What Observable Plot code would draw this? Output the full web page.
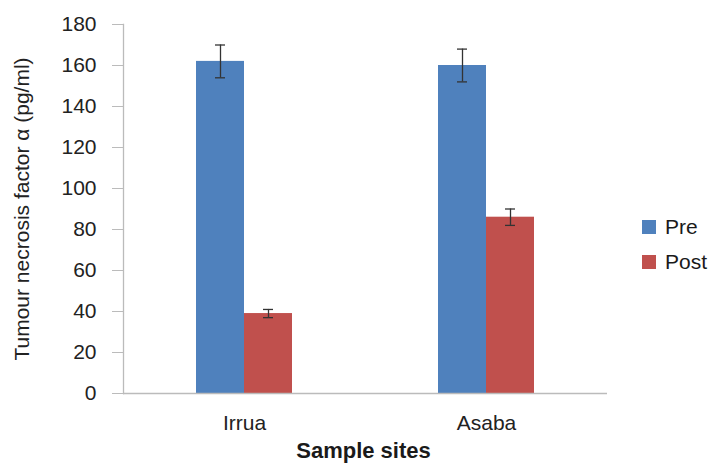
<!DOCTYPE html>
<html><head><meta charset="utf-8">
<script src="https://cdn.jsdelivr.net/npm/d3@7"></script>
<script src="https://cdn.jsdelivr.net/npm/@observablehq/plot@0.6"></script>
<style>
body{margin:0;background:#fff;font-family:"Liberation Sans",Arial,sans-serif;}
#wrap{position:relative;width:716px;height:464px;}
#wrap svg{position:absolute;left:0;top:0;}
.ov{position:absolute;color:#1a1a1a;white-space:nowrap;}
.sw{position:absolute;width:14px;height:14px;}
</style></head>
<body><div id="wrap"></div>
<script>
const sites = ["Irrua", "Asaba"];
const series = ["Pre", "Post"];
const colors = ["#4F81BD", "#C0504D"];
const preValues = [162, 160];
const postValues = [39, 86];
const preErr = [8, 8];
const postErr = [2, 4];
const yTicks = [0, 20, 40, 60, 80, 100, 120, 140, 160, 180];
const yLabel = "Tumour necrosis factor α (pg/ml)";
const xLabel = "Sample sites";

const data = [];
sites.forEach((s, i) => {
  data.push({site: s, series: "Pre", value: preValues[i], err: preErr[i]});
  data.push({site: s, series: "Post", value: postValues[i], err: postErr[i]});
});

const plot = Plot.plot({
  width: 716, height: 464,
  marginLeft: 122, marginRight: 109, marginTop: 24, marginBottom: 71,
  style: {fontFamily: "Liberation Sans, Arial, sans-serif", fontSize: "20px", background: "#fff"},
  fx: {domain: sites, padding: 0, label: null},
  x: {domain: series, paddingInner: 0, paddingOuter: 1.5, axis: null},
  y: {domain: [0, 180]},
  color: {domain: series, range: colors},
  marks: [
    Plot.barY(data, {fx: "site", x: "series", y: "value", fill: "series"}),
    Plot.ruleX(data, {fx: "site", x: "series", y1: d => d.value - d.err, y2: d => d.value + d.err, stroke: "#333", strokeWidth: 1.3}),
    Plot.tickY(data, {fx: "site", x: "series", y: d => d.value - d.err, stroke: "#333", strokeWidth: 1.3, insetLeft: 19, insetRight: 19}),
    Plot.tickY(data, {fx: "site", x: "series", y: d => d.value + d.err, stroke: "#333", strokeWidth: 1.3, insetLeft: 19, insetRight: 19}),
    Plot.ruleY([0], {stroke: "#bbb", strokeWidth: 1.3}),
    Plot.frame({anchor: "left", facetAnchor: "left", stroke: "#bbb", strokeWidth: 1.3}),
    Plot.axisY({ticks: yTicks, tickSize: 11, tickPadding: 16, stroke: "#bbb", fill: "#222", fontSize: 21,
      label: yLabel, labelAnchor: "center", labelOffset: 109, labelArrow: "none"}),
    Plot.axisFx({anchor: "bottom", tickSize: 0, tickPadding: 22, label: null, fill: "#222", fontSize: 21})
  ]
});
const wrap = document.getElementById("wrap");
wrap.appendChild(plot);

function addText(txt, x, y, css) {
  const d = document.createElement("div");
  d.className = "ov"; d.textContent = txt;
  d.style.left = x + "px"; d.style.top = y + "px";
  Object.assign(d.style, css || {});
  wrap.appendChild(d);
  return d;
}
// x title
addText(xLabel, 0, 438, {fontWeight: "bold", fontSize: "22px", width: "727px", textAlign: "center"});
// legend
series.forEach((s, i) => {
  const y = 227 + i * 35;
  const sw = document.createElement("div");
  sw.className = "sw"; sw.style.left = "642px"; sw.style.top = (y - 7) + "px"; sw.style.background = colors[i];
  wrap.appendChild(sw);
  addText(s, 665, y - 13, {fontSize: "21px", lineHeight: "26px"});
});
</script></body></html>
